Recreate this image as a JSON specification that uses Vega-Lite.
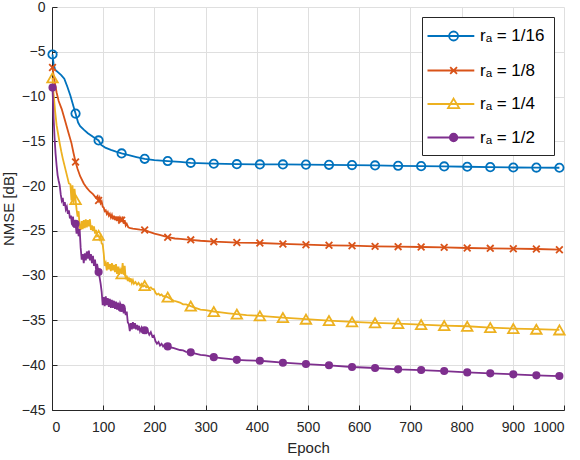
{
  "$schema": "https://vega.github.io/schema/vega-lite/v6.json",
  "width": 512,
  "height": 403,
  "autosize": "none",
  "padding": {"left": 52, "top": 7, "right": 16, "bottom": 50},
  "background": "white",
  "config": {
    "font": "Liberation Sans",
    "view": {"stroke": null},
    "axis": {
      "domainColor": "#262626",
      "tickColor": "#262626",
      "tickSize": -5,
      "labelColor": "#262626",
      "labelFontSize": 14,
      "titleFontSize": 15,
      "titleFontWeight": "normal",
      "titleColor": "#262626",
      "gridColor": "#dfdfdf",
      "grid": true
    }
  },
  "datasets": {
    "d": [
      {"s": "1/16", "e": 1, "v": -5.3, "m": 1},
      {"s": "1/16", "e": 3, "v": -6.3},
      {"s": "1/16", "e": 6, "v": -7.0},
      {"s": "1/16", "e": 12, "v": -7.3},
      {"s": "1/16", "e": 18, "v": -7.6},
      {"s": "1/16", "e": 24, "v": -8.0},
      {"s": "1/16", "e": 30, "v": -8.9},
      {"s": "1/16", "e": 36, "v": -9.9},
      {"s": "1/16", "e": 42, "v": -11.1},
      {"s": "1/16", "e": 46, "v": -11.9, "m": 1},
      {"s": "1/16", "e": 51, "v": -12.9},
      {"s": "1/16", "e": 55, "v": -13.3},
      {"s": "1/16", "e": 62, "v": -13.7},
      {"s": "1/16", "e": 70, "v": -14.1},
      {"s": "1/16", "e": 80, "v": -14.5},
      {"s": "1/16", "e": 91, "v": -14.9, "m": 1},
      {"s": "1/16", "e": 96, "v": -15.4},
      {"s": "1/16", "e": 104, "v": -15.7},
      {"s": "1/16", "e": 115, "v": -15.95},
      {"s": "1/16", "e": 125, "v": -16.15},
      {"s": "1/16", "e": 136, "v": -16.35, "m": 1},
      {"s": "1/16", "e": 150, "v": -16.55},
      {"s": "1/16", "e": 165, "v": -16.75},
      {"s": "1/16", "e": 181, "v": -16.95, "m": 1},
      {"s": "1/16", "e": 200, "v": -17.1},
      {"s": "1/16", "e": 226, "v": -17.2, "m": 1},
      {"s": "1/16", "e": 250, "v": -17.3},
      {"s": "1/16", "e": 271, "v": -17.4, "m": 1},
      {"s": "1/16", "e": 316, "v": -17.5, "m": 1},
      {"s": "1/16", "e": 361, "v": -17.55, "m": 1},
      {"s": "1/16", "e": 406, "v": -17.58, "m": 1},
      {"s": "1/16", "e": 451, "v": -17.58, "m": 1},
      {"s": "1/16", "e": 496, "v": -17.6, "m": 1},
      {"s": "1/16", "e": 541, "v": -17.62, "m": 1},
      {"s": "1/16", "e": 586, "v": -17.65, "m": 1},
      {"s": "1/16", "e": 631, "v": -17.69, "m": 1},
      {"s": "1/16", "e": 676, "v": -17.73, "m": 1},
      {"s": "1/16", "e": 721, "v": -17.77, "m": 1},
      {"s": "1/16", "e": 766, "v": -17.8, "m": 1},
      {"s": "1/16", "e": 811, "v": -17.84, "m": 1},
      {"s": "1/16", "e": 856, "v": -17.88, "m": 1},
      {"s": "1/16", "e": 901, "v": -17.92, "m": 1},
      {"s": "1/16", "e": 946, "v": -17.93, "m": 1},
      {"s": "1/16", "e": 991, "v": -17.95, "m": 1},

      {"s": "1/8", "e": 1, "v": -6.75, "m": 1},
      {"s": "1/8", "e": 3, "v": -7.6},
      {"s": "1/8", "e": 6, "v": -8.6},
      {"s": "1/8", "e": 9, "v": -9.55},
      {"s": "1/8", "e": 13, "v": -10.5},
      {"s": "1/8", "e": 19, "v": -11.4},
      {"s": "1/8", "e": 25, "v": -12.6},
      {"s": "1/8", "e": 32, "v": -14.0},
      {"s": "1/8", "e": 38, "v": -15.2},
      {"s": "1/8", "e": 42, "v": -16.3},
      {"s": "1/8", "e": 46, "v": -17.3, "m": 1},
      {"s": "1/8", "e": 50, "v": -18.1},
      {"s": "1/8", "e": 55, "v": -18.9},
      {"s": "1/8", "e": 62, "v": -19.7},
      {"s": "1/8", "e": 68, "v": -20.2},
      {"s": "1/8", "e": 74, "v": -20.6},
      {"s": "1/8", "e": 80, "v": -20.9},
      {"s": "1/8", "e": 86, "v": -21.3},
      {"s": "1/8", "e": 89, "v": -21.1},
      {"s": "1/8", "e": 91, "v": -21.6, "m": 1},
      {"s": "1/8", "e": 93, "v": -21.3},
      {"s": "1/8", "e": 95, "v": -21.9},
      {"s": "1/8", "e": 97, "v": -21.7},
      {"s": "1/8", "e": 99, "v": -22.3},
      {"s": "1/8", "e": 101, "v": -22.4},
      {"s": "1/8", "e": 103, "v": -22.8},
      {"s": "1/8", "e": 105, "v": -22.7},
      {"s": "1/8", "e": 107, "v": -23.1},
      {"s": "1/8", "e": 109, "v": -22.9},
      {"s": "1/8", "e": 111, "v": -23.3},
      {"s": "1/8", "e": 113, "v": -23.1},
      {"s": "1/8", "e": 115, "v": -23.5},
      {"s": "1/8", "e": 117, "v": -23.2},
      {"s": "1/8", "e": 119, "v": -23.7},
      {"s": "1/8", "e": 121, "v": -23.3},
      {"s": "1/8", "e": 123, "v": -23.8},
      {"s": "1/8", "e": 125, "v": -23.4},
      {"s": "1/8", "e": 127, "v": -23.9},
      {"s": "1/8", "e": 129, "v": -23.4},
      {"s": "1/8", "e": 131, "v": -24.0},
      {"s": "1/8", "e": 133, "v": -23.5},
      {"s": "1/8", "e": 136, "v": -23.8, "m": 1},
      {"s": "1/8", "e": 138, "v": -23.4},
      {"s": "1/8", "e": 140, "v": -24.2},
      {"s": "1/8", "e": 142, "v": -23.8},
      {"s": "1/8", "e": 144, "v": -24.4},
      {"s": "1/8", "e": 146, "v": -24.2},
      {"s": "1/8", "e": 149, "v": -24.6},
      {"s": "1/8", "e": 153, "v": -24.7},
      {"s": "1/8", "e": 158, "v": -24.75},
      {"s": "1/8", "e": 165, "v": -24.8},
      {"s": "1/8", "e": 172, "v": -24.85},
      {"s": "1/8", "e": 181, "v": -24.9, "m": 1},
      {"s": "1/8", "e": 190, "v": -25.1},
      {"s": "1/8", "e": 200, "v": -25.3},
      {"s": "1/8", "e": 210, "v": -25.45},
      {"s": "1/8", "e": 226, "v": -25.7, "m": 1},
      {"s": "1/8", "e": 240, "v": -25.85},
      {"s": "1/8", "e": 250, "v": -25.9},
      {"s": "1/8", "e": 271, "v": -26.0, "m": 1},
      {"s": "1/8", "e": 290, "v": -26.1},
      {"s": "1/8", "e": 316, "v": -26.2, "m": 1},
      {"s": "1/8", "e": 340, "v": -26.25},
      {"s": "1/8", "e": 361, "v": -26.3, "m": 1},
      {"s": "1/8", "e": 406, "v": -26.35, "m": 1},
      {"s": "1/8", "e": 451, "v": -26.46, "m": 1},
      {"s": "1/8", "e": 496, "v": -26.54, "m": 1},
      {"s": "1/8", "e": 541, "v": -26.61, "m": 1},
      {"s": "1/8", "e": 586, "v": -26.65, "m": 1},
      {"s": "1/8", "e": 631, "v": -26.73, "m": 1},
      {"s": "1/8", "e": 676, "v": -26.76, "m": 1},
      {"s": "1/8", "e": 721, "v": -26.8, "m": 1},
      {"s": "1/8", "e": 766, "v": -26.84, "m": 1},
      {"s": "1/8", "e": 811, "v": -26.91, "m": 1},
      {"s": "1/8", "e": 856, "v": -26.95, "m": 1},
      {"s": "1/8", "e": 901, "v": -26.99, "m": 1},
      {"s": "1/8", "e": 946, "v": -27.02, "m": 1},
      {"s": "1/8", "e": 991, "v": -27.1, "m": 1},

      {"s": "1/4", "e": 1, "v": -7.9, "m": 1},
      {"s": "1/4", "e": 3, "v": -9.6},
      {"s": "1/4", "e": 6, "v": -11.6},
      {"s": "1/4", "e": 9, "v": -13.2},
      {"s": "1/4", "e": 12, "v": -14.2},
      {"s": "1/4", "e": 15, "v": -15.2},
      {"s": "1/4", "e": 18, "v": -16.1},
      {"s": "1/4", "e": 21, "v": -16.9},
      {"s": "1/4", "e": 24, "v": -17.6},
      {"s": "1/4", "e": 27, "v": -18.3},
      {"s": "1/4", "e": 30, "v": -19.0},
      {"s": "1/4", "e": 33, "v": -19.7},
      {"s": "1/4", "e": 36, "v": -19.8},
      {"s": "1/4", "e": 38, "v": -21.6},
      {"s": "1/4", "e": 40, "v": -19.9},
      {"s": "1/4", "e": 42, "v": -22.0},
      {"s": "1/4", "e": 44, "v": -20.3},
      {"s": "1/4", "e": 46, "v": -21.5, "m": 1},
      {"s": "1/4", "e": 48, "v": -22.6},
      {"s": "1/4", "e": 50, "v": -23.4},
      {"s": "1/4", "e": 52, "v": -22.8},
      {"s": "1/4", "e": 54, "v": -24.6},
      {"s": "1/4", "e": 56, "v": -24.9},
      {"s": "1/4", "e": 58, "v": -23.9},
      {"s": "1/4", "e": 60, "v": -24.8},
      {"s": "1/4", "e": 62, "v": -23.8},
      {"s": "1/4", "e": 64, "v": -24.7},
      {"s": "1/4", "e": 66, "v": -23.7},
      {"s": "1/4", "e": 68, "v": -24.6},
      {"s": "1/4", "e": 70, "v": -23.8},
      {"s": "1/4", "e": 72, "v": -24.5},
      {"s": "1/4", "e": 74, "v": -23.7},
      {"s": "1/4", "e": 76, "v": -24.9},
      {"s": "1/4", "e": 78, "v": -24.4},
      {"s": "1/4", "e": 80, "v": -25.0},
      {"s": "1/4", "e": 82, "v": -24.5},
      {"s": "1/4", "e": 84, "v": -25.3},
      {"s": "1/4", "e": 86, "v": -24.9},
      {"s": "1/4", "e": 88, "v": -25.6},
      {"s": "1/4", "e": 91, "v": -25.5, "m": 1},
      {"s": "1/4", "e": 93, "v": -25.9},
      {"s": "1/4", "e": 95, "v": -25.6},
      {"s": "1/4", "e": 97, "v": -26.4},
      {"s": "1/4", "e": 99, "v": -26.5},
      {"s": "1/4", "e": 101, "v": -27.5},
      {"s": "1/4", "e": 103, "v": -28.9},
      {"s": "1/4", "e": 105, "v": -28.6},
      {"s": "1/4", "e": 107, "v": -29.4},
      {"s": "1/4", "e": 109, "v": -28.5},
      {"s": "1/4", "e": 111, "v": -29.3},
      {"s": "1/4", "e": 113, "v": -28.7},
      {"s": "1/4", "e": 115, "v": -29.5},
      {"s": "1/4", "e": 117, "v": -28.6},
      {"s": "1/4", "e": 119, "v": -29.4},
      {"s": "1/4", "e": 121, "v": -28.8},
      {"s": "1/4", "e": 123, "v": -29.6},
      {"s": "1/4", "e": 125, "v": -28.7},
      {"s": "1/4", "e": 127, "v": -29.8},
      {"s": "1/4", "e": 129, "v": -29.0},
      {"s": "1/4", "e": 131, "v": -29.9},
      {"s": "1/4", "e": 133, "v": -29.3},
      {"s": "1/4", "e": 136, "v": -29.8, "m": 1},
      {"s": "1/4", "e": 138, "v": -28.6},
      {"s": "1/4", "e": 140, "v": -29.9},
      {"s": "1/4", "e": 142, "v": -28.9},
      {"s": "1/4", "e": 144, "v": -30.4},
      {"s": "1/4", "e": 146, "v": -30.0},
      {"s": "1/4", "e": 148, "v": -30.6},
      {"s": "1/4", "e": 150, "v": -30.2},
      {"s": "1/4", "e": 152, "v": -30.7},
      {"s": "1/4", "e": 154, "v": -30.3},
      {"s": "1/4", "e": 156, "v": -30.8},
      {"s": "1/4", "e": 158, "v": -30.5},
      {"s": "1/4", "e": 160, "v": -30.9},
      {"s": "1/4", "e": 163, "v": -30.7},
      {"s": "1/4", "e": 166, "v": -31.0},
      {"s": "1/4", "e": 169, "v": -30.8},
      {"s": "1/4", "e": 172, "v": -31.1},
      {"s": "1/4", "e": 175, "v": -30.9},
      {"s": "1/4", "e": 178, "v": -31.2},
      {"s": "1/4", "e": 181, "v": -31.1, "m": 1},
      {"s": "1/4", "e": 184, "v": -31.3},
      {"s": "1/4", "e": 187, "v": -31.2},
      {"s": "1/4", "e": 190, "v": -31.4},
      {"s": "1/4", "e": 193, "v": -31.3},
      {"s": "1/4", "e": 196, "v": -31.5},
      {"s": "1/4", "e": 199, "v": -31.5},
      {"s": "1/4", "e": 202, "v": -31.9},
      {"s": "1/4", "e": 205, "v": -32.1},
      {"s": "1/4", "e": 208, "v": -32.0},
      {"s": "1/4", "e": 211, "v": -32.2},
      {"s": "1/4", "e": 214, "v": -32.1},
      {"s": "1/4", "e": 217, "v": -32.3},
      {"s": "1/4", "e": 220, "v": -32.3},
      {"s": "1/4", "e": 226, "v": -32.4, "m": 1},
      {"s": "1/4", "e": 232, "v": -32.6},
      {"s": "1/4", "e": 238, "v": -32.8},
      {"s": "1/4", "e": 244, "v": -32.9},
      {"s": "1/4", "e": 250, "v": -33.0},
      {"s": "1/4", "e": 256, "v": -33.2},
      {"s": "1/4", "e": 262, "v": -33.2},
      {"s": "1/4", "e": 271, "v": -33.4, "m": 1},
      {"s": "1/4", "e": 280, "v": -33.6},
      {"s": "1/4", "e": 290, "v": -33.8},
      {"s": "1/4", "e": 300, "v": -33.85},
      {"s": "1/4", "e": 316, "v": -34.0, "m": 1},
      {"s": "1/4", "e": 330, "v": -34.1},
      {"s": "1/4", "e": 345, "v": -34.2},
      {"s": "1/4", "e": 361, "v": -34.3, "m": 1},
      {"s": "1/4", "e": 380, "v": -34.4},
      {"s": "1/4", "e": 406, "v": -34.49, "m": 1},
      {"s": "1/4", "e": 451, "v": -34.68, "m": 1},
      {"s": "1/4", "e": 496, "v": -34.86, "m": 1},
      {"s": "1/4", "e": 541, "v": -35.01, "m": 1},
      {"s": "1/4", "e": 586, "v": -35.16, "m": 1},
      {"s": "1/4", "e": 631, "v": -35.27, "m": 1},
      {"s": "1/4", "e": 676, "v": -35.35, "m": 1},
      {"s": "1/4", "e": 721, "v": -35.46, "m": 1},
      {"s": "1/4", "e": 766, "v": -35.57, "m": 1},
      {"s": "1/4", "e": 811, "v": -35.65, "m": 1},
      {"s": "1/4", "e": 856, "v": -35.8, "m": 1},
      {"s": "1/4", "e": 901, "v": -35.91, "m": 1},
      {"s": "1/4", "e": 946, "v": -35.98, "m": 1},
      {"s": "1/4", "e": 991, "v": -36.06, "m": 1},

      {"s": "1/2", "e": 1, "v": -9.0, "m": 1},
      {"s": "1/2", "e": 3, "v": -12.2},
      {"s": "1/2", "e": 5, "v": -14.6},
      {"s": "1/2", "e": 7, "v": -16.4},
      {"s": "1/2", "e": 9, "v": -17.7},
      {"s": "1/2", "e": 11, "v": -18.8},
      {"s": "1/2", "e": 13, "v": -19.4},
      {"s": "1/2", "e": 15, "v": -19.9},
      {"s": "1/2", "e": 17, "v": -20.9},
      {"s": "1/2", "e": 19, "v": -21.6},
      {"s": "1/2", "e": 21, "v": -21.3},
      {"s": "1/2", "e": 23, "v": -22.2},
      {"s": "1/2", "e": 25, "v": -21.8},
      {"s": "1/2", "e": 27, "v": -22.6},
      {"s": "1/2", "e": 29, "v": -22.3},
      {"s": "1/2", "e": 31, "v": -23.1},
      {"s": "1/2", "e": 33, "v": -22.7},
      {"s": "1/2", "e": 35, "v": -23.6},
      {"s": "1/2", "e": 37, "v": -23.3},
      {"s": "1/2", "e": 39, "v": -24.3},
      {"s": "1/2", "e": 41, "v": -23.4},
      {"s": "1/2", "e": 43, "v": -24.6},
      {"s": "1/2", "e": 46, "v": -24.2, "m": 1},
      {"s": "1/2", "e": 48, "v": -25.3},
      {"s": "1/2", "e": 50, "v": -24.4},
      {"s": "1/2", "e": 52, "v": -25.6},
      {"s": "1/2", "e": 54, "v": -24.8},
      {"s": "1/2", "e": 56, "v": -26.9},
      {"s": "1/2", "e": 58, "v": -28.2},
      {"s": "1/2", "e": 60, "v": -27.6},
      {"s": "1/2", "e": 62, "v": -28.6},
      {"s": "1/2", "e": 64, "v": -27.5},
      {"s": "1/2", "e": 66, "v": -28.3},
      {"s": "1/2", "e": 68, "v": -27.3},
      {"s": "1/2", "e": 70, "v": -28.1},
      {"s": "1/2", "e": 72, "v": -27.2},
      {"s": "1/2", "e": 74, "v": -28.3},
      {"s": "1/2", "e": 76, "v": -27.6},
      {"s": "1/2", "e": 78, "v": -28.6},
      {"s": "1/2", "e": 80, "v": -27.8},
      {"s": "1/2", "e": 82, "v": -28.9},
      {"s": "1/2", "e": 84, "v": -28.2},
      {"s": "1/2", "e": 86, "v": -29.3},
      {"s": "1/2", "e": 88, "v": -28.7},
      {"s": "1/2", "e": 91, "v": -29.6, "m": 1},
      {"s": "1/2", "e": 93, "v": -30.2},
      {"s": "1/2", "e": 95, "v": -30.9},
      {"s": "1/2", "e": 97, "v": -31.8},
      {"s": "1/2", "e": 99, "v": -33.3},
      {"s": "1/2", "e": 101, "v": -32.4},
      {"s": "1/2", "e": 103, "v": -33.4},
      {"s": "1/2", "e": 105, "v": -32.3},
      {"s": "1/2", "e": 107, "v": -33.3},
      {"s": "1/2", "e": 109, "v": -32.5},
      {"s": "1/2", "e": 111, "v": -33.5},
      {"s": "1/2", "e": 113, "v": -32.6},
      {"s": "1/2", "e": 115, "v": -33.6},
      {"s": "1/2", "e": 117, "v": -32.7},
      {"s": "1/2", "e": 119, "v": -33.6},
      {"s": "1/2", "e": 121, "v": -32.8},
      {"s": "1/2", "e": 123, "v": -33.7},
      {"s": "1/2", "e": 125, "v": -32.9},
      {"s": "1/2", "e": 127, "v": -33.8},
      {"s": "1/2", "e": 129, "v": -33.0},
      {"s": "1/2", "e": 131, "v": -33.7},
      {"s": "1/2", "e": 133, "v": -33.1},
      {"s": "1/2", "e": 136, "v": -33.6, "m": 1},
      {"s": "1/2", "e": 138, "v": -33.4},
      {"s": "1/2", "e": 140, "v": -34.2},
      {"s": "1/2", "e": 142, "v": -33.6},
      {"s": "1/2", "e": 144, "v": -34.4},
      {"s": "1/2", "e": 146, "v": -34.0},
      {"s": "1/2", "e": 148, "v": -35.2},
      {"s": "1/2", "e": 150, "v": -35.4},
      {"s": "1/2", "e": 152, "v": -36.2},
      {"s": "1/2", "e": 154, "v": -35.3},
      {"s": "1/2", "e": 156, "v": -36.0},
      {"s": "1/2", "e": 158, "v": -35.2},
      {"s": "1/2", "e": 160, "v": -35.9},
      {"s": "1/2", "e": 162, "v": -35.3},
      {"s": "1/2", "e": 164, "v": -36.0},
      {"s": "1/2", "e": 166, "v": -35.5},
      {"s": "1/2", "e": 168, "v": -36.1},
      {"s": "1/2", "e": 170, "v": -35.6},
      {"s": "1/2", "e": 172, "v": -36.2},
      {"s": "1/2", "e": 175, "v": -35.8},
      {"s": "1/2", "e": 178, "v": -36.3},
      {"s": "1/2", "e": 181, "v": -36.1, "m": 1},
      {"s": "1/2", "e": 184, "v": -36.4},
      {"s": "1/2", "e": 187, "v": -36.2},
      {"s": "1/2", "e": 190, "v": -36.6},
      {"s": "1/2", "e": 193, "v": -36.3},
      {"s": "1/2", "e": 196, "v": -36.8},
      {"s": "1/2", "e": 199, "v": -36.7},
      {"s": "1/2", "e": 202, "v": -37.3},
      {"s": "1/2", "e": 205, "v": -37.6},
      {"s": "1/2", "e": 208, "v": -37.4},
      {"s": "1/2", "e": 211, "v": -37.8},
      {"s": "1/2", "e": 214, "v": -37.6},
      {"s": "1/2", "e": 217, "v": -37.9},
      {"s": "1/2", "e": 220, "v": -37.7},
      {"s": "1/2", "e": 226, "v": -37.9, "m": 1},
      {"s": "1/2", "e": 232, "v": -38.0},
      {"s": "1/2", "e": 238, "v": -38.1},
      {"s": "1/2", "e": 244, "v": -38.2},
      {"s": "1/2", "e": 250, "v": -38.3},
      {"s": "1/2", "e": 256, "v": -38.35},
      {"s": "1/2", "e": 262, "v": -38.5},
      {"s": "1/2", "e": 271, "v": -38.56, "m": 1},
      {"s": "1/2", "e": 280, "v": -38.7},
      {"s": "1/2", "e": 290, "v": -38.85},
      {"s": "1/2", "e": 300, "v": -38.9},
      {"s": "1/2", "e": 316, "v": -39.1, "m": 1},
      {"s": "1/2", "e": 330, "v": -39.2},
      {"s": "1/2", "e": 345, "v": -39.3},
      {"s": "1/2", "e": 361, "v": -39.4, "m": 1},
      {"s": "1/2", "e": 380, "v": -39.45},
      {"s": "1/2", "e": 406, "v": -39.5, "m": 1},
      {"s": "1/2", "e": 451, "v": -39.72, "m": 1},
      {"s": "1/2", "e": 496, "v": -39.87, "m": 1},
      {"s": "1/2", "e": 541, "v": -40.01, "m": 1},
      {"s": "1/2", "e": 586, "v": -40.2, "m": 1},
      {"s": "1/2", "e": 631, "v": -40.31, "m": 1},
      {"s": "1/2", "e": 676, "v": -40.46, "m": 1},
      {"s": "1/2", "e": 721, "v": -40.54, "m": 1},
      {"s": "1/2", "e": 766, "v": -40.65, "m": 1},
      {"s": "1/2", "e": 811, "v": -40.8, "m": 1},
      {"s": "1/2", "e": 856, "v": -40.91, "m": 1},
      {"s": "1/2", "e": 901, "v": -41.02, "m": 1},
      {"s": "1/2", "e": 946, "v": -41.13, "m": 1},
      {"s": "1/2", "e": 991, "v": -41.21, "m": 1}
    ]
  },
  "data": {"name": "d"},
  "encoding": {
    "x": {
      "field": "e",
      "type": "quantitative",
      "scale": {"domain": [0, 1000], "nice": false},
      "axis": {
        "title": "Epoch",
        "format": "d",
        "values": [0, 100, 200, 300, 400, 500, 600, 700, 800, 900, 1000],
        "labelPadding": 15,
        "titlePadding": 6
      }
    },
    "y": {
      "field": "v",
      "type": "quantitative",
      "scale": {"domain": [-45, 0], "nice": false},
      "axis": {
        "title": "NMSE [dB]",
        "values": [-45, -40, -35, -30, -25, -20, -15, -10, -5, 0],
        "labelPadding": 12,
        "titlePadding": 5
      }
    },
    "color": {
      "field": "s",
      "type": "nominal",
      "scale": {
        "domain": ["1/16", "1/8", "1/4", "1/2"],
        "range": ["#0072BD", "#D95319", "#EDB120", "#7E2F8E"]
      },
      "legend": {
        "title": null,
        "orient": "top-right",
        "offset": 10,
        "labelExpr": "'rₐ = ' + datum.label",
        "labelFontSize": 17,
        "labelColor": "#000000",
        "labelOffset": 29,
        "symbolSize": 324,
        "symbolStrokeWidth": 1.8,
        "symbolType": "circle",
        "rowPadding": 15.5,
        "padding": 9,
        "fillColor": "white",
        "strokeColor": "#262626",
        "cornerRadius": 0,
        "encode": {
          "symbols": {
            "update": {
              "shape": {"signal": "datum.value == '1/16' ? 'M-1.5,0H3.7M0.9,0A0.5,0.5 0 1 1 1.9,0A0.5,0.5 0 1 1 0.9,0' : datum.value == '1/8' ? 'M-1.5,0H3.7M1.02,-0.38L1.78,0.38M1.02,0.38L1.78,-0.38' : datum.value == '1/4' ? 'M-1.5,0H3.7M1.4,-0.6L2.02,0.45L0.78,0.45Z' : 'M-1.5,0H3.7M0.98,0A0.42,0.42 0 1 1 1.82,0A0.42,0.42 0 1 1 0.98,0'"},
              "fill": {"signal": "datum.value == '1/2' ? '#7E2F8E' : 'transparent'"},
              "opacity": {"value": 1}
            }
          }
        }
      }
    }
  },
  "layer": [
    {
      "mark": {"type": "line", "strokeWidth": 1.8}
    },
    {
      "transform": [{"filter": "datum.m == 1"}],
      "mark": {"type": "point", "filled": false, "strokeWidth": 1.8, "opacity": 1},
      "encoding": {
        "shape": {
          "condition": [
            {"test": "datum.s == '1/8'", "value": "M-1,-1L1,1M-1,1L1,-1"},
            {"test": "datum.s == '1/4'", "value": "triangle-up"}
          ],
          "value": "circle"
        },
        "size": {
          "condition": [
            {"test": "datum.s == '1/16'", "value": 70},
            {"test": "datum.s == '1/8'", "value": 45},
            {"test": "datum.s == '1/4'", "value": 110}
          ],
          "value": 40
        },
        "fill": {
          "condition": {"test": "datum.s == '1/2'", "value": "#7E2F8E"},
          "value": "transparent"
        }
      }
    }
  ]
}
